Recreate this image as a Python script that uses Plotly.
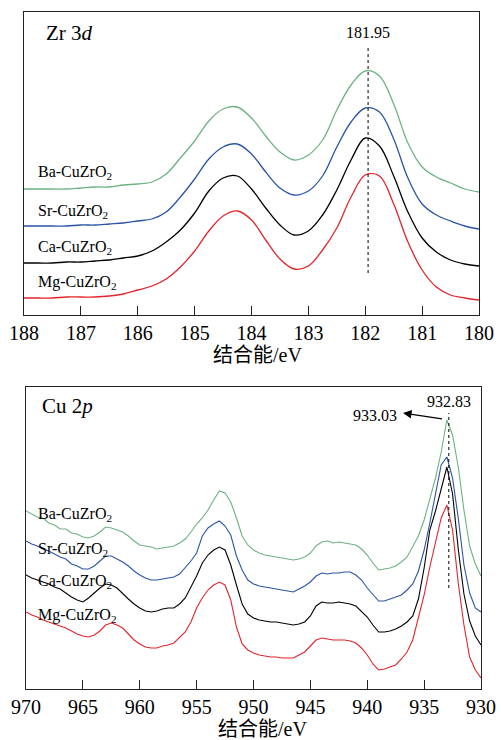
import plotly.graph_objects as go

W, H = 501, 740

# ---------------- Zr 3d region ----------------
zr_be = [188.0, 187.75, 187.5, 187.25, 187.0, 186.75, 186.5, 186.25, 186.0, 185.75,
         185.5, 185.25, 185.0, 184.75, 184.5, 184.25, 184.0, 183.75, 183.5, 183.25,
         183.0, 182.75, 182.5, 182.25, 182.0, 181.75, 181.5, 181.25, 181.0, 180.75,
         180.5, 180.25, 180.0]
zr_ba = [126, 126, 126, 126, 127, 128, 128, 130, 131, 133, 141, 157, 174, 194, 206, 208,
         197, 179, 163, 155, 160, 175, 205, 230, 244, 239, 211, 172, 148, 138, 132, 126, 123]
zr_sr = [89, 89, 89, 89, 90, 90, 91, 92, 94, 96, 103, 118, 136, 156, 168, 171,
         161, 143, 127, 120, 124, 139, 168, 193, 207, 203, 176, 137, 111, 100, 94, 89, 86]
zr_ca = [52, 52, 52, 53, 53, 54, 55, 57, 59, 64, 73, 85, 102, 124, 137, 139,
         126, 107, 90, 80, 84, 100, 125, 155, 177, 169, 139, 103, 77, 63, 55, 51, 49]
zr_mg = [17, 17, 17, 18, 18, 18, 19, 21, 25, 29, 36, 48, 64, 84, 99, 104,
         95, 75, 56, 46, 49, 65, 87, 118, 140, 139, 111, 73, 45, 28, 20, 17, 15]
zr_ticks = [188, 187, 186, 185, 184, 183, 182, 181, 180]
zr_peak = 181.95

# ---------------- Cu 2p region ----------------
cu_be = [970.0, 969.5, 969.0, 968.5, 968.0, 967.5, 967.0, 966.5, 966.0, 965.5,
         965.0, 964.5, 964.0, 963.5, 963.0, 962.5, 962.0, 961.5, 961.0, 960.5,
         960.0, 959.5, 959.0, 958.5, 958.0, 957.5, 957.0, 956.5, 956.0, 955.5,
         955.0, 954.5, 954.0, 953.5, 953.0, 952.5, 952.0, 951.5, 951.0, 950.5,
         950.0, 949.5, 949.0, 948.5, 948.0, 947.5, 947.0, 946.5, 946.0, 945.5,
         945.0, 944.5, 944.0, 943.5, 943.0, 942.5, 942.0, 941.5, 941.0, 940.5,
         940.0, 939.5, 939.0, 938.5, 938.0, 937.5, 937.0, 936.5, 936.0, 935.5,
         935.0, 934.5, 934.0, 933.5, 933.0, 932.5, 932.0, 931.5, 931.0, 930.5,
         930.0]
cu_ba = [178, 175, 172, 171, 166, 164, 160, 160, 156, 155,
         152, 151, 153, 157, 162, 161, 159, 157, 153, 148,
         144, 143, 142, 140, 141, 142, 143, 146, 150, 157,
         165, 171, 179, 189, 198, 196, 187, 171, 153, 144,
         139, 136, 134, 133, 132, 131, 130, 129, 130, 132,
         136, 143, 147, 148, 146, 147, 146, 145, 144, 140,
         134, 126, 119, 120, 121, 123, 127, 132, 143, 153,
         169, 189, 211, 237, 269, 254, 222, 179, 143, 125,
         113]
cu_sr = [148, 145, 143, 140, 138, 135, 132, 130, 125, 123,
         120, 120, 123, 128, 133, 133, 130, 127, 123, 118,
         114, 111, 109, 109, 110, 111, 112, 115, 121, 128,
         136, 153, 161, 165, 168, 163, 154, 133, 119, 109,
         105, 103, 102, 101, 100, 99, 98, 97, 100, 103,
         107, 113, 116, 115, 116, 116, 117, 117, 114, 109,
         101, 94, 88, 88, 90, 92, 94, 99, 105, 118,
         139, 166, 194, 224, 232, 211, 171, 124, 96, 81,
         77]
cu_ca = [114, 111, 109, 107, 105, 102, 100, 96, 92, 89,
         87, 91, 96, 101, 105, 104, 101, 95, 90, 85,
         81, 78, 77, 78, 80, 81, 81, 85, 91, 102,
         113, 126, 134, 139, 142, 139, 124, 104, 85, 75,
         71, 69, 68, 67, 67, 66, 65, 64, 65, 67,
         73, 83, 87, 86, 86, 87, 86, 85, 83, 78,
         72, 64, 57, 57, 58, 60, 63, 67, 73, 90,
         121, 159, 178, 200, 222, 195, 140, 95, 68, 53,
         44]
cu_mg = [77, 74, 72, 69, 67, 65, 63, 61, 58, 55,
         53, 52, 54, 58, 64, 66, 64, 61, 55, 49,
         45, 42, 41, 41, 43, 44, 46, 51, 57, 67,
         81, 91, 99, 104, 107, 104, 89, 62, 45, 39,
         36, 34, 33, 32, 32, 31, 31, 31, 34, 37,
         43, 49, 51, 50, 49, 49, 49, 48, 46, 41,
         34, 25, 19, 20, 22, 24, 30, 37, 49, 71,
         94, 122, 148, 171, 184, 159, 106, 64, 32, 19,
         11]
cu_ticks = [970, 965, 960, 955, 950, 945, 940, 935, 930]
cu_peak_line = 932.83
cu_peak_shift = 933.03

samples = ["Ba-CuZrO<sub>2</sub>", "Sr-CuZrO<sub>2</sub>",
           "Ca-CuZrO<sub>2</sub>", "Mg-CuZrO<sub>2</sub>"]
colors = ["#6db283", "#2a54a8", "#000000", "#e3242b"]

SERIF = "Liberation Serif, Times New Roman, serif"
CJK = "Liberation Serif, Noto Sans CJK SC, serif"

fig = go.Figure()

for ys, c in zip([zr_ba, zr_sr, zr_ca, zr_mg], colors):
    fig.add_trace(go.Scatter(x=zr_be, y=ys, mode="lines", xaxis="x", yaxis="y",
                             line=dict(color=c, width=1.3, shape="spline", smoothing=1.0),
                             hoverinfo="skip"))

for ys, c in zip([cu_ba, cu_sr, cu_ca, cu_mg], colors):
    fig.add_trace(go.Scatter(x=cu_be, y=ys, mode="lines", xaxis="x2", yaxis="y2",
                             line=dict(color=c, width=1.1),
                             hoverinfo="skip"))


def px(xp):
    return xp / W


def py(yp):
    return 1 - yp / H


frame = dict(showline=True, mirror=True, linecolor="#222", linewidth=1.3,
             showgrid=False, zeroline=False, automargin=False)
xcommon = dict(frame, ticks="inside", ticklen=9, tickwidth=1.2, tickcolor="#222",
               tickfont=dict(family=SERIF, size=20, color="black"))

fig.update_layout(
    width=W, height=H,
    margin=dict(l=0, r=0, t=0, b=0, autoexpand=False),
    paper_bgcolor="white", plot_bgcolor="white",
    showlegend=False,
    xaxis=dict(xcommon, domain=[px(24), px(479)], anchor="y",
               range=[188, 180], tickvals=zr_ticks),
    yaxis=dict(frame, domain=[py(315), py(12)], anchor="x",
               range=[0, 303], showticklabels=False, ticks=""),
    xaxis2=dict(xcommon, domain=[px(26), px(481)], anchor="y2",
                range=[970, 930], tickvals=cu_ticks),
    yaxis2=dict(frame, domain=[py(689), py(387)], anchor="x2",
                range=[0, 302], showticklabels=False, ticks=""),
)

# peak position guides
fig.add_shape(type="line", xref="x", yref="y", x0=zr_peak, x1=zr_peak, y0=42, y1=268,
              line=dict(color="black", width=1, dash="dot"))
fig.add_shape(type="line", xref="x2", yref="y2", x0=cu_peak_line, x1=cu_peak_line,
              y0=101, y1=276, line=dict(color="black", width=1, dash="dot"))

ann = []
# panel titles
ann.append(dict(text="Zr 3<i>d</i>", x=px(44), y=py(33), xref="paper", yref="paper",
                xanchor="left", yanchor="middle", showarrow=False,
                font=dict(family=SERIF, size=21, color="black")))
ann.append(dict(text="Cu 2<i>p</i>", x=px(40), y=py(406), xref="paper", yref="paper",
                xanchor="left", yanchor="middle", showarrow=False,
                font=dict(family=SERIF, size=21, color="black")))

# sample labels
for name, yp in zip(samples, [172, 212, 247, 282]):
    ann.append(dict(text=name, x=px(36), y=py(yp), xref="paper", yref="paper",
                    xanchor="left", yanchor="middle", showarrow=False,
                    font=dict(family=SERIF, size=16, color="black")))
for name, yp in zip(samples, [514, 549, 581, 615]):
    ann.append(dict(text=name, x=px(36), y=py(yp), xref="paper", yref="paper",
                    xanchor="left", yanchor="middle", showarrow=False,
                    font=dict(family=SERIF, size=16, color="black")))

# peak value labels
ann.append(dict(text=f"{zr_peak:.2f}", x=zr_peak, y=py(33), xref="x", yref="paper",
                xanchor="center", yanchor="middle", showarrow=False,
                font=dict(family=SERIF, size=16, color="black")))
ann.append(dict(text=f"{cu_peak_line:.2f}", x=cu_peak_line, y=py(401), xref="x2", yref="paper",
                xanchor="center", yanchor="middle", showarrow=False,
                font=dict(family=SERIF, size=16, color="black")))
ann.append(dict(text=f"{cu_peak_shift:.2f}", x=px(375), y=py(415), xref="paper", yref="paper",
                xanchor="center", yanchor="middle", showarrow=False,
                font=dict(family=SERIF, size=16, color="black")))
# arrow from the peak top towards the shifted value
ann.append(dict(text="", x=936.85, y=276, xref="x2", yref="y2",
                ax=933.3, ay=270, axref="x2", ayref="y2",
                showarrow=True, arrowhead=2, arrowsize=1.3, arrowwidth=1.3,
                arrowcolor="black"))

# axis titles
ann.append(dict(text="结合能/eV", x=px(257), y=py(355), xref="paper", yref="paper",
                xanchor="center", yanchor="middle", showarrow=False,
                font=dict(family=CJK, size=20, color="black")))
ann.append(dict(text="结合能/eV", x=px(262), y=py(729), xref="paper", yref="paper",
                xanchor="center", yanchor="middle", showarrow=False,
                font=dict(family=CJK, size=20, color="black")))

fig.update_layout(annotations=ann)

fig.write_html("out.html")
